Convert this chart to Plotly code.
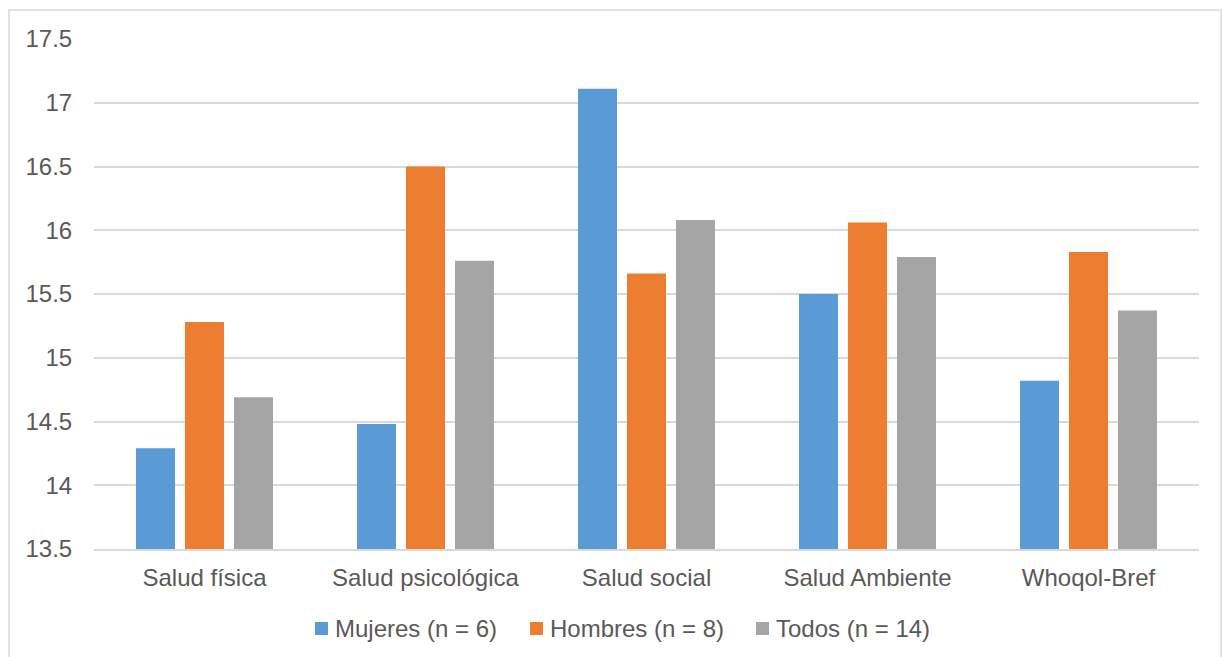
import plotly.graph_objects as go

categorias = ["Salud física", "Salud psicológica", "Salud social", "Salud Ambiente", "Whoqol-Bref"]
mujeres = [14.29, 14.48, 17.11, 15.50, 14.82]
hombres = [15.28, 16.50, 15.66, 16.06, 15.83]
todos = [14.69, 15.76, 16.08, 15.79, 15.37]

series = [
    ("Mujeres (n = 6)", mujeres, "#5B9BD5"),
    ("Hombres (n = 8)", hombres, "#ED7D31"),
    ("Todos (n = 14)", todos, "#A5A5A5"),
]

texto = "#595959"
rejilla = "#D9D9D9"
fuente = "Liberation Sans, Arial, sans-serif"
tam = 24

fig = go.Figure()
for nombre, valores, color in series:
    fig.add_trace(go.Bar(
        x=categorias, y=valores, name=nombre,
        marker=dict(color=color, line=dict(width=0)),
        showlegend=False,
    ))

W, H = 1222, 657
L, R, T, B = 94, 23, 39, 108
pw, ph = W - L - R, H - T - B


def px_x(x):
    return (x - L) / pw


def px_y(y):
    return (H - B - y) / ph


# legend drawn as coloured squares with labels beside them
legend_x = [315, 530, 756]
legend_y = 628.5
shapes = [dict(
    type="rect", xref="paper", yref="paper",
    x0=px_x(9), x1=px_x(1221), y0=-0.3, y1=px_y(10),
    line=dict(color=rejilla, width=1.5), fillcolor="rgba(0,0,0,0)",
    layer="below",
)]
annotations = []
for (nombre, _, color), lx in zip(series, legend_x):
    shapes.append(dict(
        type="rect", xref="paper", yref="paper",
        x0=px_x(lx), x1=px_x(lx + 13),
        y0=px_y(legend_y + 6.5), y1=px_y(legend_y - 6.5),
        line=dict(width=0), fillcolor=color,
    ))
    annotations.append(dict(
        text=nombre, xref="paper", yref="paper",
        x=px_x(lx + 18), y=px_y(legend_y),
        xanchor="left", yanchor="middle", showarrow=False,
        font=dict(family=fuente, size=tam, color=texto),
    ))

fig.update_layout(
    width=W, height=H,
    margin=dict(l=L, r=R, t=T, b=B, pad=0),
    paper_bgcolor="white", plot_bgcolor="white",
    barmode="group", bargap=0.335, bargroupgap=0.204,
    font=dict(family=fuente, size=tam, color=texto),
    showlegend=False,
    xaxis=dict(
        showgrid=False, showline=True, linecolor=rejilla, linewidth=1.5,
        ticks="outside", ticklen=6, tickcolor="rgba(0,0,0,0)",
        tickfont=dict(size=tam, color=texto), fixedrange=True,
        automargin=False,
    ),
    yaxis=dict(
        range=[13.5, 17.5], dtick=0.5, tick0=13.5,
        showgrid=True, gridcolor=rejilla, gridwidth=1.5,
        zeroline=False, showline=False,
        ticks="outside", ticklen=16, tickcolor="rgba(0,0,0,0)",
        tickfont=dict(size=tam, color=texto),
        tickformat="~g", fixedrange=True, automargin=False,
    ),
    shapes=shapes,
    annotations=annotations,
)

fig.write_html("out.html")
